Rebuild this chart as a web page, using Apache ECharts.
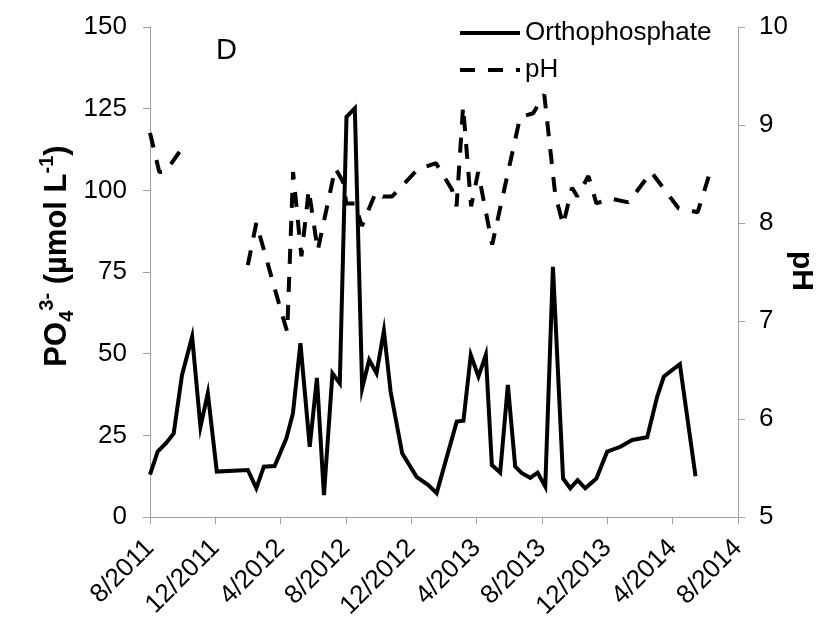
<!DOCTYPE html>
<html>
<head>
<meta charset="utf-8" />
<title>Orthophosphate and pH</title>
<script src="https://cdn.jsdelivr.net/npm/echarts@6/dist/echarts.min.js"></script>
<style type="text/css">
body { margin: 0; background: #fff; }
#echarts { width: 828px; height: 623px; }
</style>
</head>
<body>
<div id="echarts"></div>
<script type="text/javascript">
var myChart = echarts.init(document.getElementById('echarts'));

// x in months since 8/2011
var tickLabels = ['8/2011', '12/2011', '4/2012', '8/2012', '12/2012', '4/2013', '8/2013', '12/2013', '4/2014', '8/2014'];

// orthophosphate (umol/L)
var poMonths = [0.00, 0.47, 0.98, 1.45, 1.96, 2.58, 3.09, 3.54, 4.09, 5.99,
    6.51, 6.97, 7.63, 8.35, 8.75, 9.21, 9.78, 10.22, 10.65, 11.17,
    11.62, 12.03, 12.54, 12.99, 13.42, 13.87, 14.32, 14.73, 15.44, 16.32,
    17.04, 17.55, 18.78, 19.19, 19.64, 20.11, 20.56, 20.93, 21.44, 21.91,
    22.36, 22.77, 23.28, 23.73, 24.20, 24.67, 25.29, 25.73, 26.18, 26.65,
    27.33, 27.99, 28.80, 29.52, 30.44, 31.05, 31.46, 32.44, 33.40];
var poValues = [13, 20, 22.6, 25.6, 43.5, 55.2, 27.6, 37.9, 13.9, 14.4,
    8.8, 15.4, 15.6, 24.1, 31.7, 53.2, 21.5, 42.6, 6.7, 44,
    40.9, 122.5, 125.1, 39.4, 48.1, 44, 57, 38.4, 19.5, 12.3,
    9.8, 7.3, 29.2, 29.5, 49.6, 43, 49.6, 15.9, 13.6, 40.4,
    15.4, 13.4, 12, 13.6, 9.3, 76.6, 11.8, 8.8, 11.3, 8.8,
    11.8, 20, 21.5, 23.6, 24.4, 36.8, 43, 46.8, 12.5];

// pH (null = no data)
var phMonths = [0.00, 0.57, 0.94, 1.86, 3.5, 5.99, 6.51, 8.06, 8.40, 8.76,
    9.27, 9.72, 10.27, 11.34, 11.82, 12.02, 12.54, 12.97, 13.77, 13.95,
    14.26, 14.81, 16.41, 17.51, 18.49, 18.77, 19.17, 19.66, 20.09, 20.95,
    22.66, 23.46, 24.14, 24.81, 25.29, 25.84, 26.16, 26.84, 27.33, 28.19,
    29.29, 30.69, 32.36, 33.53, 34.33];
var phValues = [8.92, 8.52, 8.52, 8.74, null, 7.57, 8.0, 7.08, 6.89, 8.52,
    7.66, 8.34, 7.72, 8.56, 8.42, 8.20, 8.20, 7.97, 8.29, 8.32,
    8.27, 8.27, 8.55, 8.61, 8.34, 8.17, 9.19, 8.17, 8.52, 7.78,
    9.08, 9.12, 9.31, 8.29, 7.98, 8.36, 8.27, 8.48, 8.20, 8.25,
    8.21, 8.52, 8.15, 8.11, 8.54];

var font = 'Arial, "Liberation Sans", sans-serif';
var axisGray = '#a0a0a0';

function pairs(xs, ys) {
    return xs.map(function (x, i) {
        return [x, ys[i] === null ? '-' : ys[i]];
    });
}

var option = {
    backgroundColor: '#fff',
    animation: false,
    grid: { left: 150, right: 90, top: 27, bottom: 106 },
    legend: {
        orient: 'vertical',
        left: 458,
        top: 20,
        padding: 0,
        itemWidth: 60,
        itemHeight: 14,
        itemGap: 11,
        itemStyle: { opacity: 0 },
        lineStyle: { width: 4 },
        textStyle: { fontSize: 26, color: '#000', fontFamily: font },
        data: ['Orthophosphate', 'pH']
    },
    xAxis: {
        type: 'value',
        min: 0,
        max: 36,
        interval: 4,
        axisLine: { lineStyle: { color: axisGray, width: 1 } },
        axisTick: { length: 7, lineStyle: { color: axisGray } },
        splitLine: { show: false },
        axisLabel: {
            rotate: 45,
            margin: 27,
            fontSize: 26,
            color: '#000',
            fontFamily: font,
            formatter: function (v) { return tickLabels[Math.round(v / 4)]; }
        }
    },
    yAxis: [{
        type: 'value',
        min: 0,
        max: 150,
        interval: 25,
        axisLine: { show: true, lineStyle: { color: axisGray } },
        axisTick: { show: true, length: 7, lineStyle: { color: axisGray } },
        splitLine: { show: false },
        axisLabel: { margin: 23, fontSize: 26, color: '#000', fontFamily: font }
    }, {
        type: 'value',
        position: 'right',
        min: 5,
        max: 10,
        interval: 1,
        axisLine: { show: true, lineStyle: { color: axisGray } },
        axisTick: { show: true, length: 7, lineStyle: { color: axisGray } },
        splitLine: { show: false },
        axisLabel: { margin: 21, fontSize: 26, color: '#000', fontFamily: font }
    }],
    graphic: [{
        type: 'text',
        x: 216,
        y: 51,
        style: { text: 'D', fontSize: 29, fontFamily: font, fill: '#000', verticalAlign: 'middle' }
    }, {
        type: 'text',
        x: 57,
        y: 256,
        rotation: Math.PI / 2,
        style: {
            text: '{b|PO}{sub|4}{sup|3-}{b| (µmol L}{sup|-1}{b|)}',
            align: 'center',
            verticalAlign: 'middle',
            fill: '#000',
            rich: {
                b: { fontSize: 31, fontWeight: 'bold', fontFamily: font, lineHeight: 40 },
                sub: { fontSize: 20, fontWeight: 'bold', fontFamily: font, lineHeight: 20, verticalAlign: 'bottom' },
                sup: { fontSize: 20, fontWeight: 'bold', fontFamily: font, lineHeight: 20, verticalAlign: 'top' }
            }
        }
    }, {
        type: 'text',
        x: 801,
        y: 271,
        rotation: -Math.PI / 2,
        style: {
            text: 'pH', fontSize: 30, fontWeight: 'bold', fontFamily: font, fill: '#000',
            align: 'center', verticalAlign: 'middle'
        }
    }],
    series: [{
        name: 'Orthophosphate',
        type: 'line',
        yAxisIndex: 0,
        symbol: 'none',
        lineStyle: { color: '#000', width: 4, join: 'miter' },
        itemStyle: { color: '#000' },
        data: pairs(poMonths, poValues)
    }, {
        name: 'pH',
        type: 'line',
        yAxisIndex: 1,
        symbol: 'none',
        connectNulls: false,
        lineStyle: { color: '#000', width: 4, type: [15, 13] },
        itemStyle: { color: '#000' },
        data: pairs(phMonths, phValues)
    }]
};

myChart.setOption(option);
</script>
</body>
</html>
